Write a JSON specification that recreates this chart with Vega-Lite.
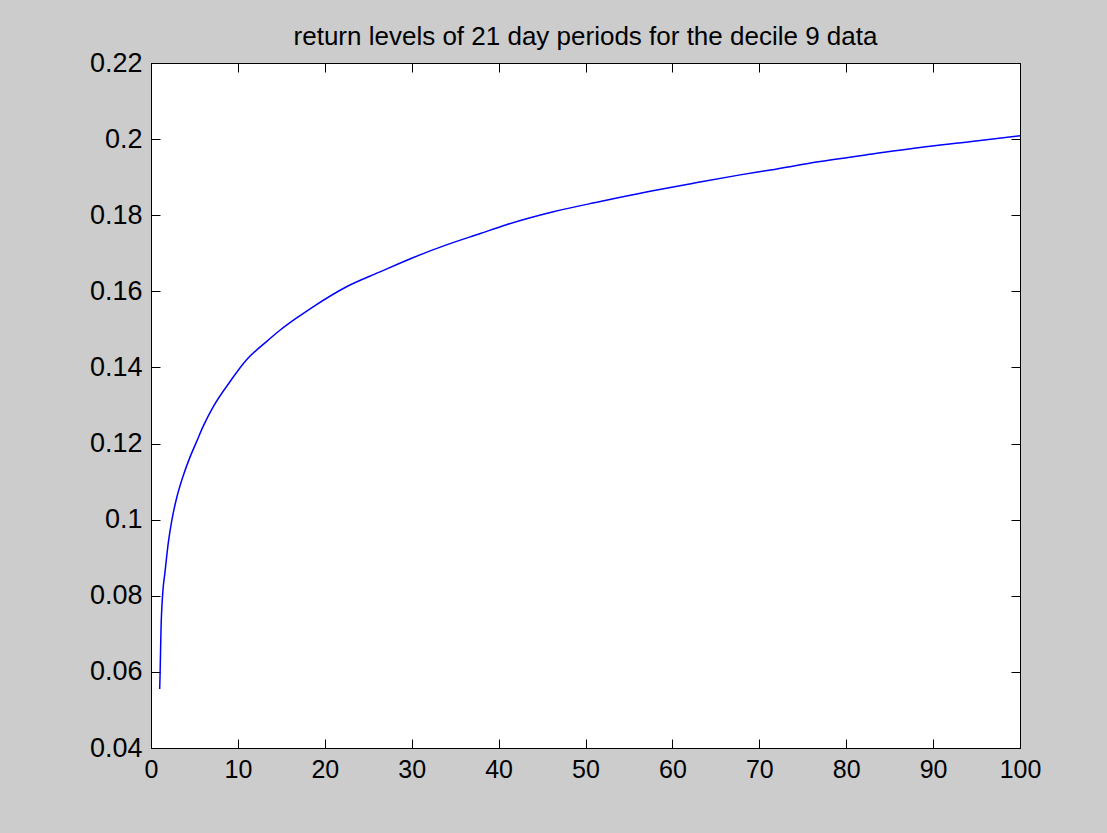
{
  "$schema": "https://vega.github.io/schema/vega-lite/v6.json",
  "width": 869,
  "height": 685,
  "autosize": "none",
  "padding": {"left": 151, "top": 63, "right": 87, "bottom": 85},
  "background": "#cccccc",
  "title": {
    "text": "return levels of 21 day periods for the decile 9 data",
    "font": "Liberation Sans",
    "fontSize": 26,
    "fontWeight": "normal",
    "color": "#000000",
    "anchor": "middle",
    "offset": -1
  },
  "config": {
    "view": {"fill": "white", "stroke": "black", "strokeWidth": 1},
    "axis": {
      "grid": false,
      "domainColor": "black",
      "tickColor": "black",
      "tickSize": -9,
      "tickWidth": 1,
      "labelFont": "Liberation Sans",
      "labelColor": "black",
      "labelPadding": 18,
      "labelFlush": false
    }
  },
  "data": {
    "values": [
      {"T": 1.0, "level": 0.0555},
      {"T": 1.05, "level": 0.06},
      {"T": 1.15, "level": 0.071},
      {"T": 1.35, "level": 0.0807},
      {"T": 1.6, "level": 0.086},
      {"T": 2.0, "level": 0.0941},
      {"T": 2.4, "level": 0.0999},
      {"T": 2.95, "level": 0.1057},
      {"T": 3.7, "level": 0.1115},
      {"T": 4.5, "level": 0.1165},
      {"T": 5.25, "level": 0.1205},
      {"T": 6.0, "level": 0.1245},
      {"T": 7.17, "level": 0.1297},
      {"T": 9.1, "level": 0.1363},
      {"T": 11.0, "level": 0.142},
      {"T": 13.3, "level": 0.1468},
      {"T": 14.8, "level": 0.1497},
      {"T": 16.95, "level": 0.1533},
      {"T": 18.7, "level": 0.156},
      {"T": 22.5, "level": 0.1612},
      {"T": 26.35, "level": 0.1651},
      {"T": 30.2, "level": 0.1689},
      {"T": 34.0, "level": 0.1722},
      {"T": 37.9, "level": 0.1752},
      {"T": 40.9, "level": 0.1775},
      {"T": 46.3, "level": 0.1809},
      {"T": 51.7, "level": 0.1836},
      {"T": 57.0, "level": 0.1861},
      {"T": 62.4, "level": 0.1884},
      {"T": 67.8, "level": 0.1906},
      {"T": 71.3, "level": 0.1919},
      {"T": 77.0, "level": 0.1941},
      {"T": 82.7, "level": 0.196},
      {"T": 88.5, "level": 0.1978},
      {"T": 94.2, "level": 0.1993},
      {"T": 100.0, "level": 0.2009}
    ]
  },
  "layer": [
    {
      "mark": {"type": "line", "color": "#0000ff", "strokeWidth": 1.5, "interpolate": "monotone", "clip": true},
      "encoding": {
        "x": {
          "field": "T", "type": "quantitative",
          "scale": {"domain": [0, 100], "nice": false, "zero": false},
          "axis": {"orient": "bottom", "title": null, "labelFontSize": 25, "values": [0, 10, 20, 30, 40, 50, 60, 70, 80, 90, 100], "format": "d"}
        },
        "y": {
          "field": "level", "type": "quantitative",
          "scale": {"domain": [0.04, 0.22], "nice": false, "zero": false},
          "axis": {"orient": "left", "title": null, "labelFontSize": 27, "values": [0.04, 0.06, 0.08, 0.1, 0.12, 0.14, 0.16, 0.18, 0.2, 0.22], "format": "~g"}
        }
      }
    },
    {
      "mark": {"type": "line", "opacity": 0},
      "encoding": {
        "x": {
          "field": "T", "type": "quantitative",
          "axis": {"orient": "top", "title": null, "labels": false, "values": [0, 10, 20, 30, 40, 50, 60, 70, 80, 90, 100]}
        },
        "y": {
          "field": "level", "type": "quantitative",
          "axis": {"orient": "right", "title": null, "labels": false, "values": [0.04, 0.06, 0.08, 0.1, 0.12, 0.14, 0.16, 0.18, 0.2, 0.22]}
        }
      }
    }
  ],
  "resolve": {"axis": {"x": "independent", "y": "independent"}}
}
